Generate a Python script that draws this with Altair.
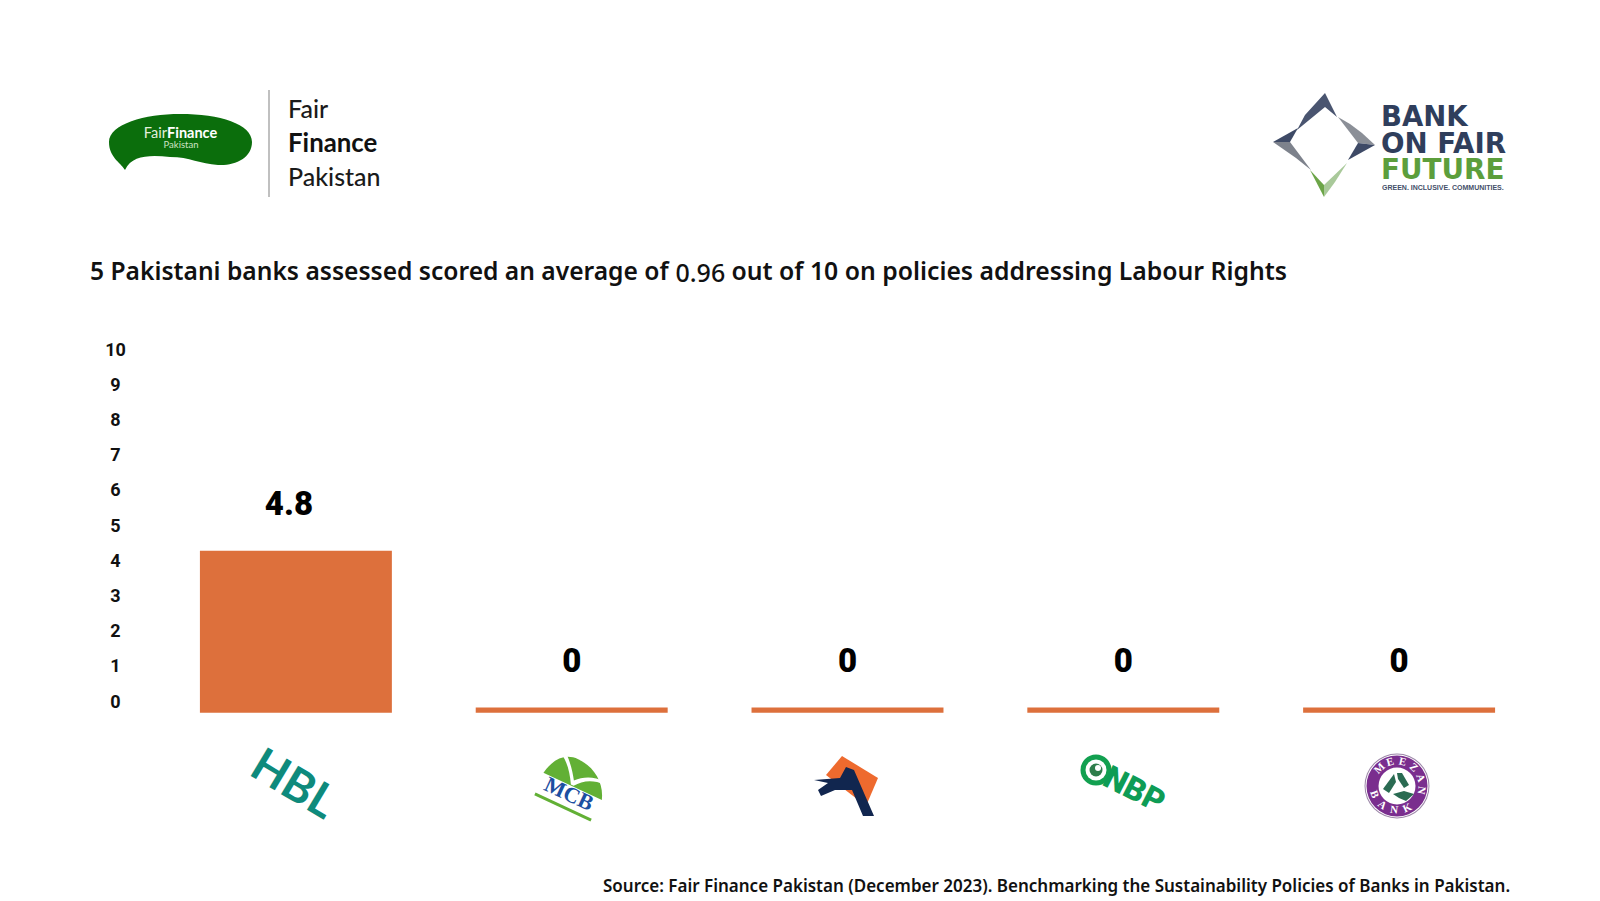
import math
import altair as alt
import pandas as pd

banks = ["HBL", "MCB", "Askari", "NBP", "Meezan"]
scores = [4.8, 0, 0, 0, 0]
ticks = list(range(0, 11))

TITLE_A = "5 Pakistani banks assessed scored an average of"
TITLE_B = "0.96"
TITLE_C = "out of 10 on policies addressing Labour Rights"
SOURCE = "Source: Fair Finance Pakistan (December 2023). Benchmarking the Sustainability Policies of Banks in Pakistan."

BAR = "#DD703C"
one = alt.Data(values=[{}])
df = pd.DataFrame({"bank": banks, "score": scores})
tick_df = pd.DataFrame({"tick": ticks})

x_scale = alt.Scale(domain=banks, range=[150, 1529], paddingInner=0.304, paddingOuter=0.152)
y_bar = alt.Scale(domain=[0, 10], range=[699.5, 372.8], nice=False)
y_axis = alt.Scale(domain=[0, 10], range=[694, 342], nice=False)


def txt(s, x, y, size, color="#000000", weight="normal", font="Noto Sans", align="left", angle=0):
    return alt.Chart(one).mark_text(text=s, fontSize=size, color=color, fontWeight=weight, font=font,
                                    align=align, baseline="middle", angle=angle % 360).encode(
        x=alt.value(x - 8), y=alt.value(y - 8))


def shp(path, x, y, color, angle=0):
    return alt.Chart(one).mark_point(shape=path, size=4, filled=True, opacity=1, strokeWidth=0, color=color,
                                     angle=angle % 360).encode(x=alt.value(x - 8), y=alt.value(y - 8))


def disc(x, y, r, color):
    return alt.Chart(one).mark_point(shape="circle", size=(2 * r) ** 2, filled=True, opacity=1, strokeWidth=0,
                                     color=color).encode(x=alt.value(x - 8), y=alt.value(y - 8))


bars = alt.Chart(df).mark_bar(color=BAR).encode(
    x=alt.X("bank:N", scale=x_scale, sort=banks, axis=None),
    y=alt.Y("score:Q", scale=y_bar, axis=None, stack=None),
    y2=alt.value(704.7),
)
labels_hbl = alt.Chart(df).transform_filter("datum.score > 0").mark_text(
    font="Roboto", fontWeight=900, fontSize=33, color="#000000", baseline="middle", dy=-45.5, dx=-7
).encode(x=alt.X("bank:N", scale=x_scale, sort=banks, axis=None),
         y=alt.Y("score:Q", scale=y_bar, axis=None), text=alt.Text("score:Q", format=".1f"))
labels_rest = alt.Chart(df).transform_filter("datum.score == 0").mark_text(
    font="Roboto", fontWeight=900, fontSize=33, color="#000000", baseline="middle", dy=-46
).encode(x=alt.X("bank:N", scale=x_scale, sort=banks, axis=None),
         y=alt.Y("score:Q", scale=y_bar, axis=None), text=alt.Text("score:Q", format="d"))
axis_layer = alt.Chart(tick_df).mark_point(opacity=0).encode(
    x=alt.value(0),
    y=alt.Y("tick:Q", scale=y_axis, title=None, axis=alt.Axis(
        orient="left", values=ticks, offset=-107, domain=False, ticks=False, grid=False, labelPadding=0,
        labelAlign="center", labelFont="Roboto", labelFontWeight="bold", labelFontSize=18, labelColor="#111111",
        format="d")),
)

# Fair Finance Pakistan logo
blob = "M-71,0 C-71,-18 -35,-28 0,-28 C40,-28 72,-18 72,0 C72,16 55,24 38,23 C20,22 10,15 -10,15 C-30,13 -48,13 -55,28 C-60,20 -71,15 -71,0 Z"
left_logo = [
    shp(blob, 180, 142, "#0B6E0C"),
    txt("Fair", 167, 133.5, 14.5, "#E4F0DC", font="Lato", align="right"),
    txt("Finance", 167, 133.5, 14.5, "#FFFFFF", "bold", "Lato"),
    txt("Pakistan", 181, 144.5, 9.5, "#CFE3C5", font="Lato", align="center"),
    alt.Chart(one).mark_rule(color="#9E9E9E", strokeWidth=1.3).encode(
        x=alt.value(261), y=alt.value(82), y2=alt.value(189)),
    txt("Fair", 288, 110, 25, "#1A1A1A", 500, "Lato"),
    txt("Finance", 288, 144, 25.8, "#111111", "bold", "Lato"),
    txt("Pakistan", 288, 178, 25, "#1A1A1A", 500, "Lato"),
]

# Bank on Fair Future logo (paths are in page pixels)
right_logo = [
    shp("M1325,93 L1337,117 L1325,107 L1297,130 L1305,115 Z", 0, 0, "#4A5570"),
    shp("M1338,117 L1350,124 L1362,133 L1375,145 L1358,143 Z", 0, 0, "#8B8F97"),
    shp("M1375,145 L1348,160 L1358,143 Z", 0, 0, "#3E4A66"),
    shp("M1273,142 L1298,128 L1290,142 Z", 0, 0, "#3E4A66"),
    shp("M1273,142 L1290,142 L1311,170 L1296,158 Z", 0, 0, "#7D828C"),
    shp("M1310,170 L1324,185 L1324,197 Z", 0, 0, "#6CA548"),
    shp("M1324,197 L1324,185 L1347,163 L1335,182 Z", 0, 0, "#A9C99A"),
    txt("BANK", 1381, 118, 27.5, "#2F3E5C", "bold", "DejaVu Sans"),
    txt("ON FAIR", 1381, 145, 27.7, "#2F3E5C", "bold", "DejaVu Sans"),
    txt("FUTURE", 1381, 171, 27.8, "#5C9E3C", "bold", "DejaVu Sans"),
    txt("GREEN. INCLUSIVE. COMMUNITIES.", 1382, 188, 7, "#44506A", "bold", "Liberation Sans"),
]

# Headline and source
headline = [
    txt(TITLE_A, 90, 273, 24.6, "#111111", 600),
    txt(TITLE_B, 675.5, 274, 25, "#111111", 500),
    txt(TITLE_C, 731.5, 273, 24.75, "#111111", 600),
    txt(SOURCE, 603, 887, 17, "#111111", 600, align="left"),
]

# Bank logos
hbl = [txt("HBL", 293, 785, 46, "#0E8A7C", "bold", "Lato", "center", 31)]

mcb = [
    shp("M-33,12 C-33,-14 -24,-30 -6,-30 C16,-30 35,-14 35,12 Z", 571, 789, "#62B035", 25),
    shp("M-18,-29 C-10,-22 -5,-15 -1,-9 C6,-16 14,-21 28,-21 L29,-18 C15,-18 7,-12 1,-4 L-2,-4 C-7,-13 -14,-22 -22,-27 Z",
        571, 789, "#FFFFFF", 25),
    shp("M-36,-3 L38,-3 L38,13 L-36,13 Z", 571, 789, "#FFFFFF", 25),
    txt("MCB", 569, 794, 22, "#1C4FA1", "bold", "Liberation Serif", "center", 25),
    shp("M-31,-1.5 L31,-1.5 L31,1.5 L-31,1.5 Z", 563, 807, "#62B035", 25),
]

askari = [
    shp("M842,756 L878,778 L866,806 L826,775 Z", 0, 0, "#EE6A2E"),
    shp("M814,780 L840,778 L846,767 L854,770 L874,816 L863,816 L852,790 L835,790 L821,796 L818,790 L828,783 Z",
        0, 0, "#11264F"),
]

nbp = [
    disc(1096, 770, 15.5, "#12A050"),
    disc(1096, 770, 10.5, "#FFFFFF"),
    disc(1096, 770, 6.5, "#2E7D4B"),
    disc(1098, 768, 3, "#FFFFFF"),
    txt("NBP", 1134, 790, 32, "#0E9C55", 900, "Roboto", "center", 27),
]

MX, MY = 1397, 786
meezan = [
    disc(MX, MY, 32.5, "#9C86A8"),
    disc(MX, MY, 31.5, "#FFFFFF"),
    disc(MX, MY, 30.5, "#7A2E8E"),
    disc(MX, MY, 18.5, "#FFFFFF"),
    shp("M-3,-12 L-1,-4 L-8,7 L-14,3 Z", MX, MY, "#2A6B52"),
    shp("M0,-13 L5,-13 L12,-1 L7,2 L1,-7 Z", MX, MY, "#2A6B52"),
    shp("M-4,8 L7,5 L17,8 L9,15 L2,12 Z", MX, MY, "#2A6B52"),
]
for ch, th in zip("MEEZAN", [-45, -16, 13, 42, 71, 100]):
    r = math.radians(th)
    meezan.append(txt(ch, MX + 24.5 * math.sin(r), MY - 24.5 * math.cos(r), 11, "#FFFFFF", "bold",
                      "Liberation Serif", "center", th))
for ch, th in zip("BANK", [70, 38, 7, -25]):
    r = math.radians(th)
    meezan.append(txt(ch, MX - 24.5 * math.sin(r), MY + 24.5 * math.cos(r), 11, "#FFFFFF", "bold",
                      "Liberation Serif", "center", th))

layers = [axis_layer, bars, labels_hbl, labels_rest] + left_logo + right_logo + headline + hbl + mcb + askari + nbp + meezan

chart = alt.layer(*layers).resolve_scale(y="independent").properties(
    width=1584, height=892, padding=0, background="#FFFFFF",
    autosize=alt.AutoSizeParams(type="none"),
).configure_view(strokeWidth=0)

chart.save("out.html", embed_options={"renderer": "svg", "actions": False})
